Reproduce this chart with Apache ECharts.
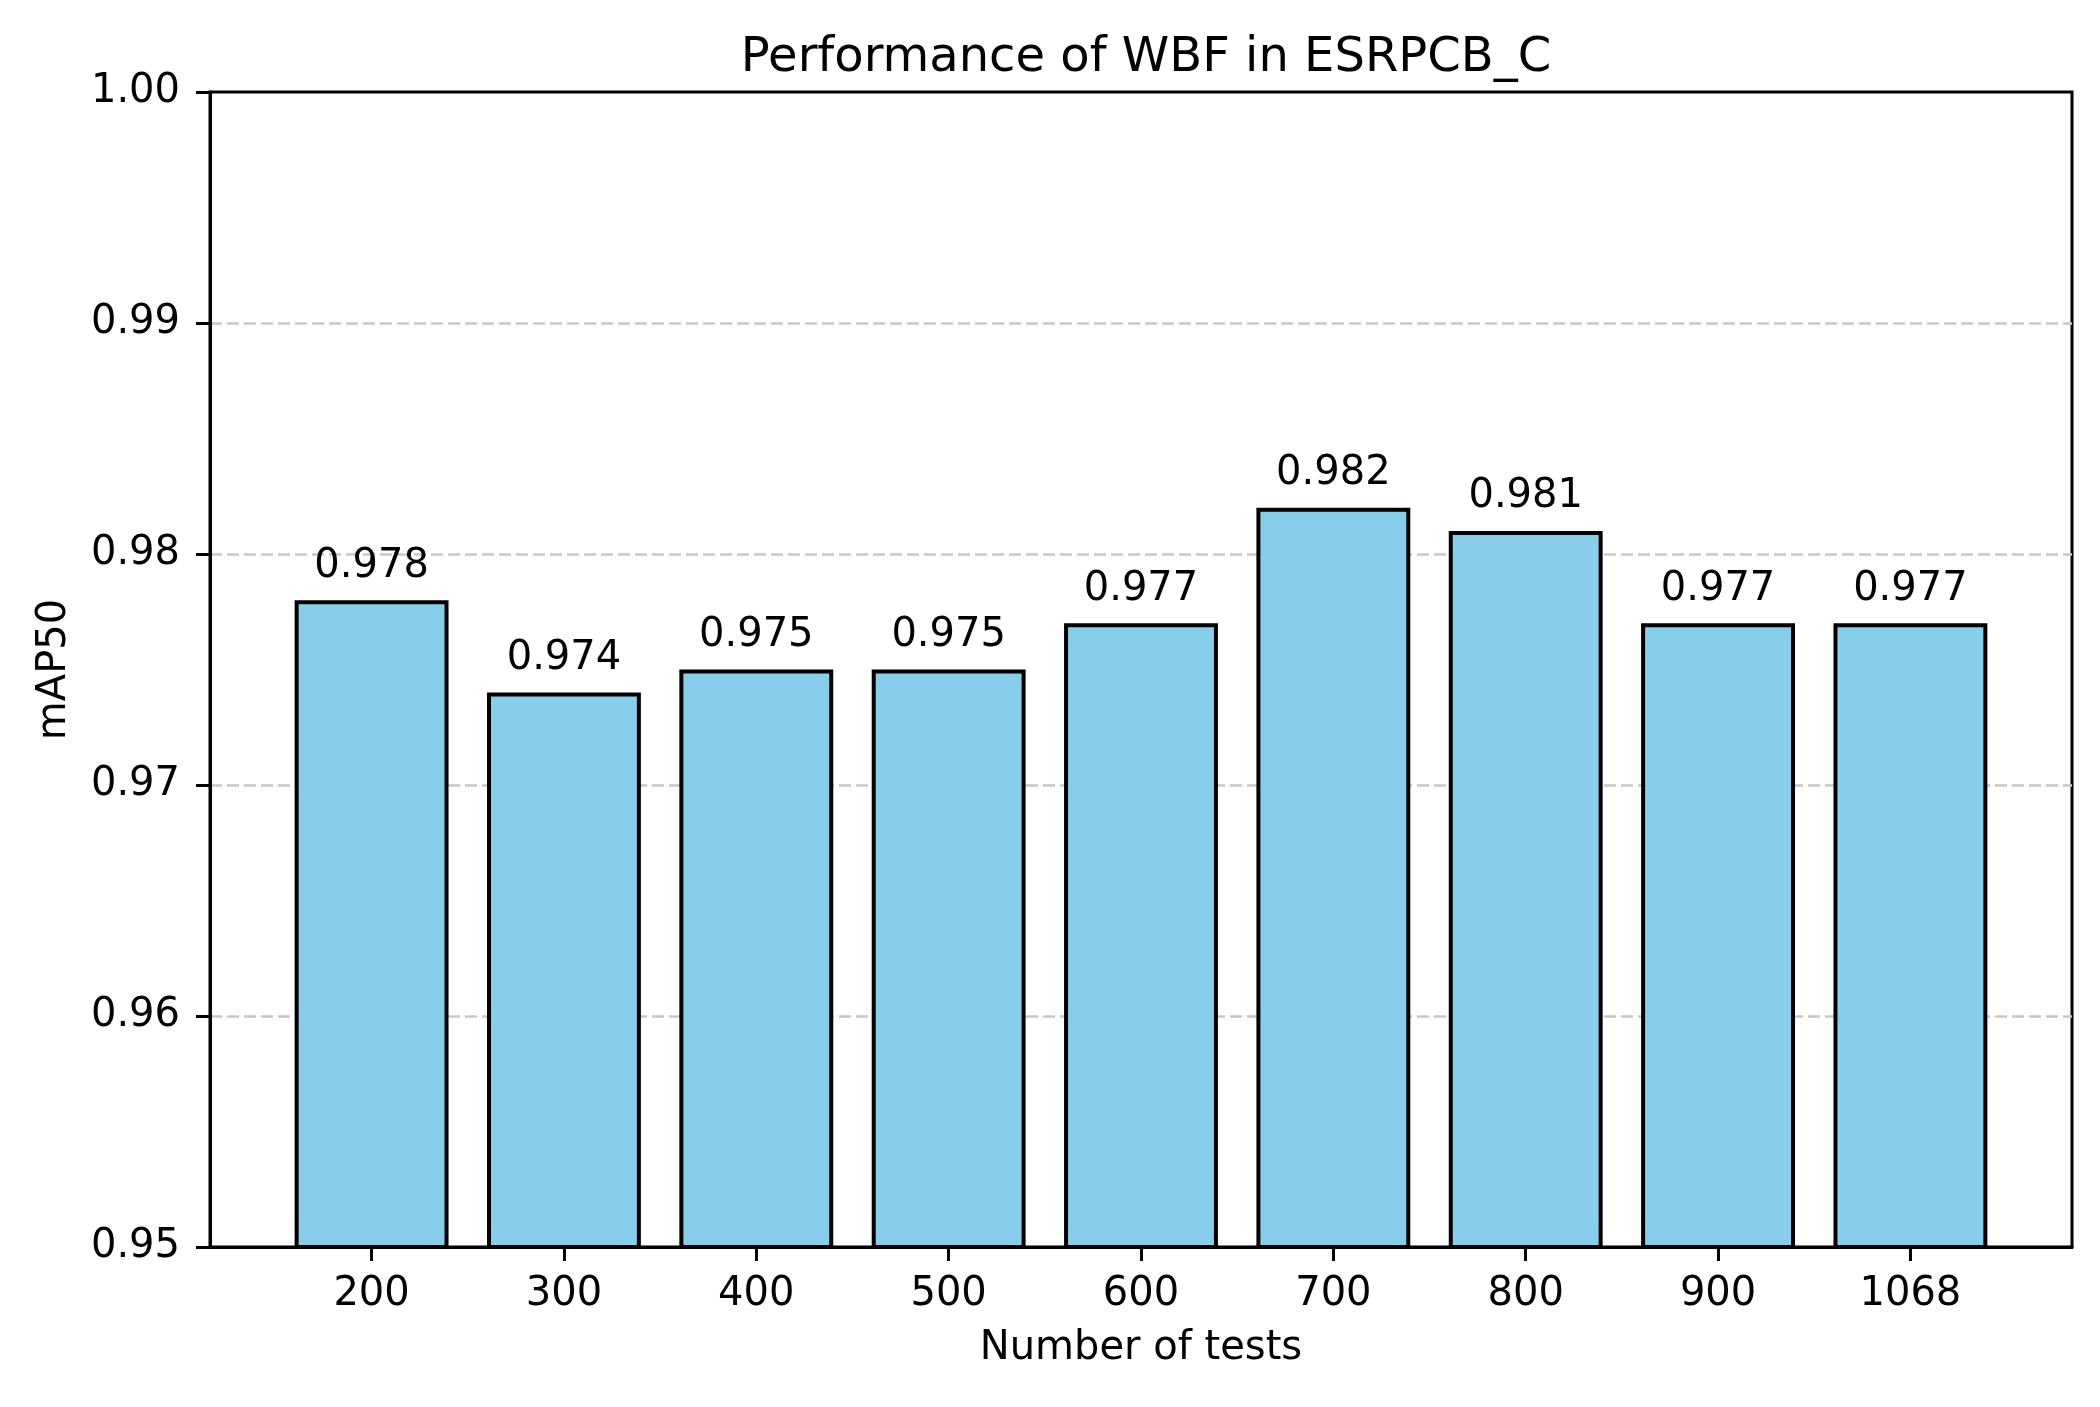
<!DOCTYPE html>
<html>
<head>
<meta charset="utf-8">
<script src="https://cdn.jsdelivr.net/npm/echarts@6/dist/echarts.min.js"></script>
<style>
html,body{margin:0;padding:0;background:#fff;}
#chart{width:2100px;height:1407px;}
</style>
</head>
<body>
<div id="chart"></div>
<script>
const categories = ['200', '300', '400', '500', '600', '700', '800', '900', '1068'];
const mapValues = [0.978, 0.974, 0.975, 0.975, 0.977, 0.982, 0.981, 0.977, 0.977];
const yTicks = [0.95, 0.96, 0.97, 0.98, 0.99, 1.00];

const W = 2100, H = 1407;
const gridLeft = 210, gridRight = 28, gridTop = 92, gridBottom = 160;
const xMin = -0.84, xMax = categories.length - 1 + 0.84;
const plotW = W - gridLeft - gridRight;
const barPx = plotW * 0.8 / (xMax - xMin);
const font = 'DejaVu Sans';
const idx = categories.map((c, i) => i);

const chart = echarts.init(document.getElementById('chart'), null, {renderer: 'canvas', width: W, height: H});
chart.setOption({
  animation: false,
  backgroundColor: '#ffffff',
  title: {
    text: 'Performance of WBF in ESRPCB_C',
    left: gridLeft + plotW / 2,
    top: 30,
    textAlign: 'center',
    textStyle: {fontFamily: font, fontSize: 48, fontWeight: 'normal', color: '#000'}
  },
  grid: {
    left: gridLeft, right: gridRight, top: gridTop, bottom: gridBottom,
    show: true, borderColor: '#000', borderWidth: 3, backgroundColor: 'transparent'
  },
  xAxis: {
    type: 'value',
    min: xMin, max: xMax,
    name: 'Number of tests',
    nameLocation: 'middle',
    nameGap: 82,
    nameTextStyle: {fontFamily: font, fontSize: 40, color: '#000'},
    axisLine: {show: true, onZero: false, lineStyle: {color: '#000', width: 3}},
    axisTick: {show: true, customValues: idx, length: 14, lineStyle: {color: '#000', width: 3}},
    axisLabel: {
      customValues: idx,
      margin: 28,
      fontFamily: font, fontSize: 40, color: '#000',
      formatter: v => categories[Math.round(v)]
    },
    splitLine: {show: false}
  },
  yAxis: {
    type: 'value',
    min: yTicks[0], max: yTicks[yTicks.length - 1], interval: 0.01,
    name: 'mAP50',
    nameLocation: 'middle',
    nameGap: 135,
    nameTextStyle: {fontFamily: font, fontSize: 40, color: '#000'},
    axisLine: {show: true, onZero: false, lineStyle: {color: '#000', width: 3}},
    axisTick: {show: true, length: 14, lineStyle: {color: '#000', width: 3}},
    axisLabel: {
      margin: 30,
      fontFamily: font, fontSize: 40, color: '#000',
      formatter: v => v.toFixed(2)
    },
    splitLine: {show: true, showMinLine: false, showMaxLine: false, lineStyle: {color: '#c8c8c8', width: 2.5, type: [12, 5]}}
  },
  series: [{
    type: 'bar',
    data: mapValues.map((v, i) => [i, v]),
    barWidth: barPx,
    itemStyle: {color: '#87CEEB', borderColor: '#000', borderWidth: 4},
    label: {
      show: true, position: 'top', distance: 14,
      fontFamily: font, fontSize: 40, color: '#000',
      formatter: p => p.value[1].toFixed(3)
    }
  }]
});
</script>
</body>
</html>
